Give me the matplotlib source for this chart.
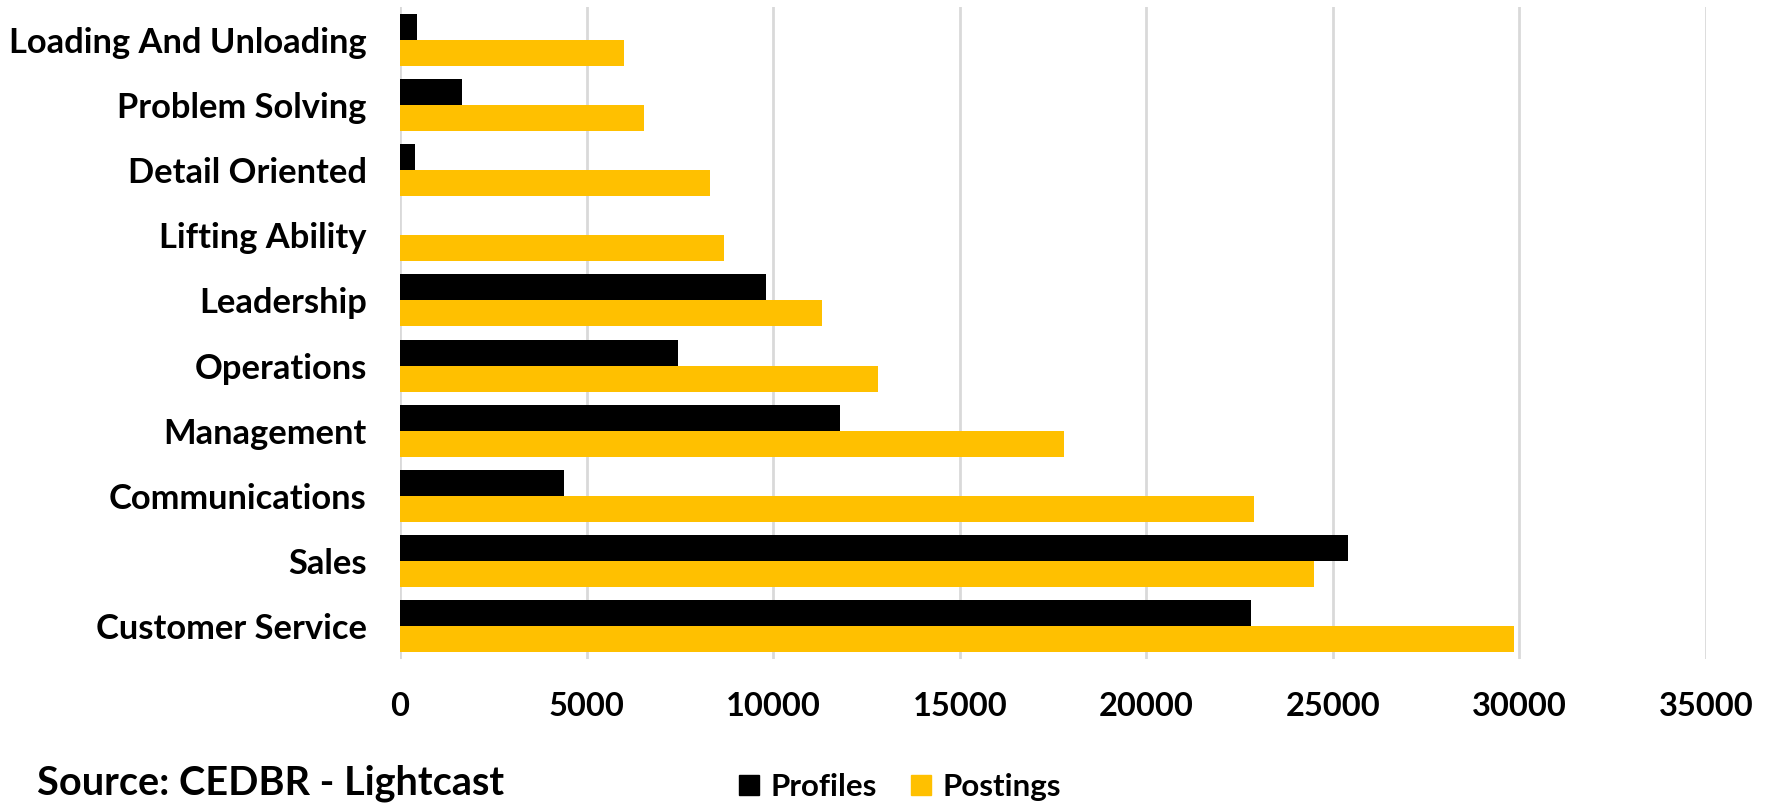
import numpy as np
import matplotlib.pyplot as plt
from matplotlib.patches import Patch

# bottom to top, as barh draws them
skills = ['Customer Service', 'Sales', 'Communications', 'Management', 'Operations',
          'Leadership', 'Lifting Ability', 'Detail Oriented', 'Problem Solving',
          'Loading And Unloading']
profiles = [22800, 25400, 4400, 11800, 7450, 9800, 0, 400, 1650, 450]
postings = [29850, 24500, 22900, 17800, 12800, 11300, 8680, 8320, 6530, 6000]
xticks = [0, 5000, 10000, 15000, 20000, 25000, 30000, 35000]

plt.rcParams['font.family'] = ['Lato', 'DejaVu Sans']
plt.rcParams['font.weight'] = 'bold'

fig = plt.figure(figsize=(17.67, 8.08), dpi=100)
ax = fig.add_axes([400/1767, 1-659/808, (1706-400)/1767, (659-7)/808])

y = np.arange(len(skills))
h = 0.4
ax.barh(y + h/2, profiles, height=h, color='black', zorder=3)
ax.barh(y - h/2, postings, height=h, color='#FFC000', zorder=3)

ax.set_xlim(0, 35000)
ax.set_ylim(-0.5, len(skills) - 0.5)
ax.set_xticks(xticks)
ax.set_xticklabels([str(t) for t in xticks], fontsize=23.5, fontweight='bold')
ax.set_yticks(y)
ax.set_yticklabels(skills, fontsize=24.8, fontweight='bold')
ax.tick_params(axis='both', length=0)
ax.tick_params(axis='y', pad=24)
ax.tick_params(axis='x', pad=24)
ax.grid(axis='x', color='#D9D9D9', linewidth=2, zorder=0)
for s in ax.spines.values():
    s.set_visible(False)

fig.text(37/1767, 1-783/808, 'Source: CEDBR - Lightcast', fontsize=28.5,
         fontweight='bold', va='center', ha='left')

handles = [Patch(color='black', label='Profiles'), Patch(color='#FFC000', label='Postings')]
fig.legend(handles=handles, loc='center', bbox_to_anchor=(900/1767, 1-787/808), ncol=2,
           frameon=False, prop={'size': 22.5, 'weight': 'bold'}, handlelength=0.65,
           handleheight=0.65, handletextpad=0.35, columnspacing=1.1)

fig.savefig('out.png', dpi=100)
